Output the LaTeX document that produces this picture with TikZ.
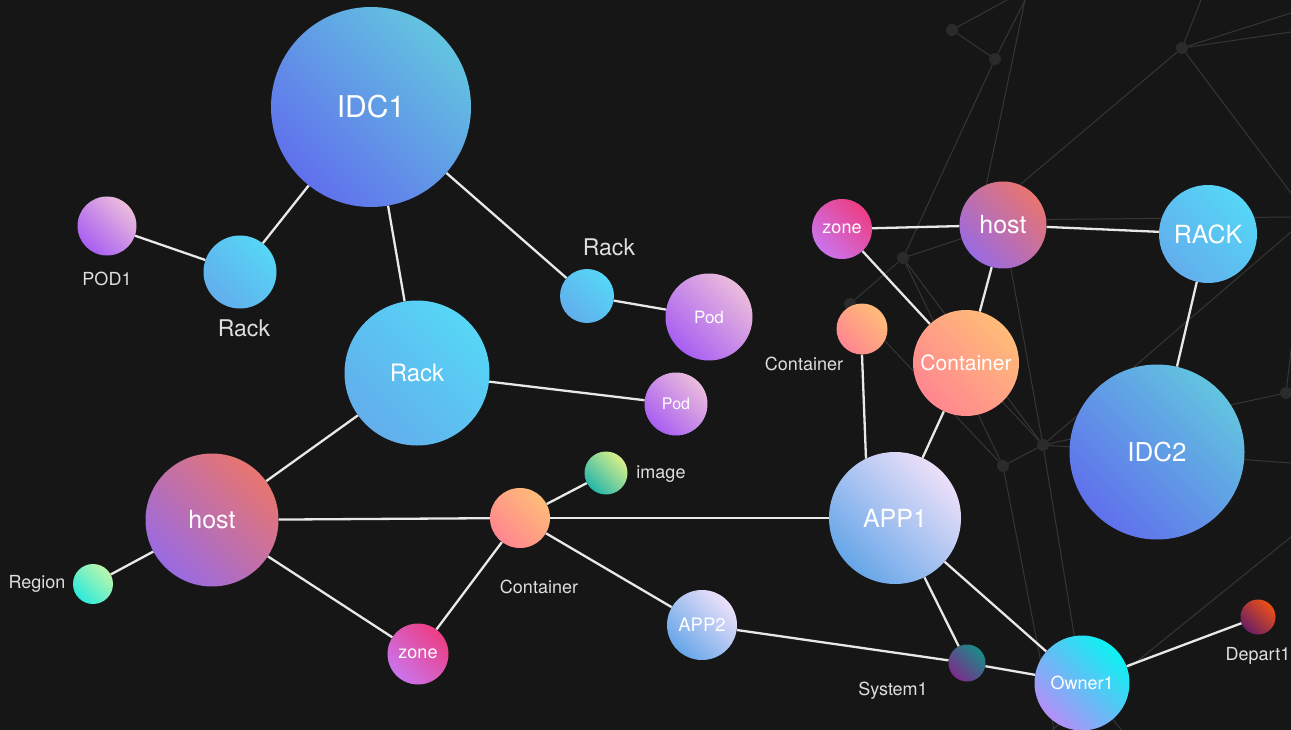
\documentclass[tikz,border=0pt]{standalone}
\usepackage{fontspec}
\setmainfont{TeX Gyre Heros}
\pgfdeclarelayer{bg}
\pgfsetlayers{bg,main}
\definecolor{bgc}{HTML}{161616}
\definecolor{netc}{HTML}{363636}
\definecolor{dotc}{HTML}{2B2B2B}
\definecolor{edgec}{HTML}{E8E8E8}
\definecolor{labc}{HTML}{DEDEDE}
\definecolor{idcA}{HTML}{6070EC}
\definecolor{idcB}{HTML}{62C4E0}
\definecolor{rkA}{HTML}{62AEEC}
\definecolor{rkB}{HTML}{56D6F6}
\definecolor{pdA}{HTML}{A85EF2}
\definecolor{pdB}{HTML}{EBBCDC}
\definecolor{hsA}{HTML}{9A6AE2}
\definecolor{hsB}{HTML}{E87570}
\definecolor{znA}{HTML}{CB74EC}
\definecolor{znB}{HTML}{EC3E84}
\definecolor{ctA}{HTML}{FF8690}
\definecolor{ctB}{HTML}{FFBC78}
\definecolor{imA}{HTML}{26B6AC}
\definecolor{imB}{HTML}{D8F088}
\definecolor{rgA}{HTML}{2CEADC}
\definecolor{rgB}{HTML}{BCF6AC}
\definecolor{apA}{HTML}{66A6E8}
\definecolor{apB}{HTML}{ECE0FA}
\definecolor{syA}{HTML}{7C2C8C}
\definecolor{syB}{HTML}{1A8C88}
\definecolor{owA}{HTML}{B48EF8}
\definecolor{owB}{HTML}{0CF2F2}
\definecolor{dpA}{HTML}{6A1E64}
\definecolor{dpB}{HTML}{EC5016}
\newcommand\fsz[1]{\fontsize{#1}{#1}\selectfont}
\tikzset{
  ball/.style={circle, inner sep=0pt, text=white, minimum size=#1},
  grad/.style 2 args={top color=#2, bottom color=#1, shading angle=-45},
  edge/.style={draw=edgec, line width=2.3pt},
  net/.style={draw=netc, line width=1pt},
  netdot/.style={circle, fill=dotc, inner sep=0pt, minimum size=12pt},
  lab/.style={text=labc, inner sep=0pt, font=\fsz{18}},
}
\begin{document}
\begin{tikzpicture}[x=1pt,y=-1pt]
\begin{pgfonlayer}{bg}
\fill[bgc] (0,0) rectangle (1291,730);
\end{pgfonlayer}
\useasboundingbox (0,0) rectangle (1291,730);

% main nodes
\node[ball=200pt, grad={idcA}{idcB}, font=\fsz{30}] (idc1) at (371,107) {IDC1};
\node[ball=73pt, grad={rkA}{rkB}] (rackL) at (240,272) {};
\node[ball=59pt, grad={pdA}{pdB}] (pod1) at (107,226) {};
\node[ball=145pt, grad={rkA}{rkB}, font=\fsz{24}] (rackB) at (417,373) {Rack};
\node[ball=54pt, grad={rkA}{rkB}] (rackR) at (587,296) {};
\node[ball=87pt, grad={pdA}{pdB}, font=\fsz{17}] (podR) at (709,317) {Pod};
\node[ball=63pt, grad={pdA}{pdB}, font=\fsz{16}] (podL) at (676,404) {Pod};
\node[ball=133pt, grad={hsA}{hsB}, font=\fsz{25}] (hostL) at (212,520) {host};
\node[ball=40pt, grad={rgA}{rgB}] (region) at (93,584) {};
\node[ball=61pt, grad={znA}{znB}, font=\fsz{18}] (zoneB) at (418,654) {zone};
\node[ball=60pt, grad={ctA}{ctB}] (contM) at (520,518) {};
\node[ball=43pt, grad={imA}{imB}] (image) at (606,473) {};
\node[ball=70pt, grad={apA}{apB}, font=\fsz{18.5}] (app2) at (702,625) {APP2};
\node[ball=132pt, grad={apA}{apB}, font=\fsz{25}] (app1) at (895,518) {APP1};
\node[ball=37pt, grad={syA}{syB}] (sys1) at (967,663) {};
\node[ball=95pt, grad={owA}{owB}, font=\fsz{18}] (owner1) at (1082,683) {Owner1};
\node[ball=35pt, grad={dpA}{dpB}] (dep1) at (1258,617) {};
\node[ball=175pt, grad={idcA}{idcB}, font=\fsz{26}] (idc2) at (1157,452) {IDC2};
\node[ball=98pt, grad={rkA}{rkB}, font=\fsz{25}] (rackU) at (1208,234) {RACK};
\node[ball=87pt, grad={hsA}{hsB}, font=\fsz{25}] (hostR) at (1003,225) {host};
\node[ball=60pt, grad={znA}{znB}, font=\fsz{18}] (zoneR) at (842,229) {zone};
\node[ball=106pt, grad={ctA}{ctB}, font=\fsz{21}] (contR) at (966,363) {Container};
\node[ball=51pt, grad={ctA}{ctB}] (contS) at (862,329) {};

% outside labels
\node[lab] (lPod1) at (107,279) {POD1};
\node[lab, font=\fsz{23}] (lRackL) at (244,328) {Rack};
\node[lab, font=\fsz{23}] (lRackR) at (609,247) {Rack};
\node[lab] (lRegion) at (37,584) {Region};
\node[lab] (lContM) at (539,587) {Container};
\node[lab] (lImage) at (661,474) {image};
\node[lab] (lSys1) at (893,691) {System1};
\node[lab] (lDep1) at (1258,656) {Depart1};
\node[lab] (lContS) at (804,364) {Container};

% background network
\begin{pgfonlayer}{bg}
\node[netdot] (d1) at (952,30) {};
\node[netdot] (d2) at (995,59) {};
\node[netdot] (d3) at (1182,48) {};
\node[netdot] (d4) at (903,258) {};
\node[netdot] (d5) at (850,304) {};
\node[netdot] (d6) at (1043,445) {};
\node[netdot] (d7) at (1003,466) {};
\node[netdot] (d8) at (1286,393) {};
\coordinate (e1) at (1007,0);
\coordinate (e2) at (1025,0);
\coordinate (e3) at (1201,0);
\coordinate (e4) at (1291,13);
\coordinate (e5) at (1291,32);
\coordinate (e6) at (1291,193);
\coordinate (e7) at (1291,217);
\coordinate (e8) at (1291,232);
\coordinate (e9) at (1291,350);
\coordinate (e10) at (1291,463);
\coordinate (e11) at (1291,537);
\coordinate (e12) at (1054,730);
\coordinate (e13) at (1052,730);
\coordinate (e14) at (1130,740);
\coordinate (h1) at (978,225);
\coordinate (h2) at (990,210);
\coordinate (h3) at (1003,220);
\draw[net] (d1) -- (e1);
\draw[net] (d1) -- (d2);
\draw[net] (d2) -- (e2);
\draw[net] (e2) -- (h1);
\draw[net] (d2) -- (d4);
\draw[net] (d3) -- (e3);
\draw[net] (d3) -- (e4);
\draw[net] (d3) -- (e5);
\draw[net] (d3) -- (h2);
\draw[net] (d3) -- (e6);
\draw[net] (h3) -- (e7);
\draw[net] (d4) -- (hostR.center);
\draw[net] (d4) -- (d5);
\draw[net] (d4) -- (d7);
\draw[net] (d4) -- (d6);
\draw[net] (d5) -- (d7);
\draw[net] (hostR.center) -- (d6);
\draw[net] (contR.center) -- (d6);
\draw[net] (d6) -- (d7);
\draw[net] (d6) -- (e8);
\draw[net] (d6) -- (d8);
\draw[net] (d6) -- (e10);
\draw[net] (d8) -- (e9);
\draw[net] (d7) -- (e12);
\draw[net] (d6) -- (owner1.center);
\draw[net] (owner1.center) -- (e14);
\draw[net] (e13) -- (e11);
\end{pgfonlayer}

% edges
\draw[edge] (idc1) -- (rackL);
\draw[edge] (rackL) -- (pod1);
\draw[edge] (idc1) -- (rackB);
\draw[edge] (idc1) -- (rackR);
\draw[edge] (rackR) -- (podR);
\draw[edge] (rackB) -- (podL);
\draw[edge] (rackB) -- (hostL);
\draw[edge] (hostL) -- (region);
\draw[edge] (hostL) -- (zoneB);
\draw[edge] (hostL) -- (contM);
\draw[edge] (contM) -- (zoneB);
\draw[edge] (contM) -- (image);
\draw[edge] (contM) -- (app1);
\draw[edge] (contM) -- (app2);
\draw[edge] (app2) -- (sys1);
\draw[edge] (app1) -- (sys1);
\draw[edge] (app1) -- (owner1);
\draw[edge] (sys1) -- (owner1);
\draw[edge] (owner1) -- (dep1);
\draw[edge] (contS.270) -- (app1.116);
\draw[edge] (app1) -- (contR);
\draw[edge] (contR) -- (hostR);
\draw[edge] (contR) -- (zoneR);
\draw[edge] (zoneR) -- (hostR);
\draw[edge] (hostR) -- (rackU);
\draw[edge] (rackU) -- (idc2);
\end{tikzpicture}
\end{document}
